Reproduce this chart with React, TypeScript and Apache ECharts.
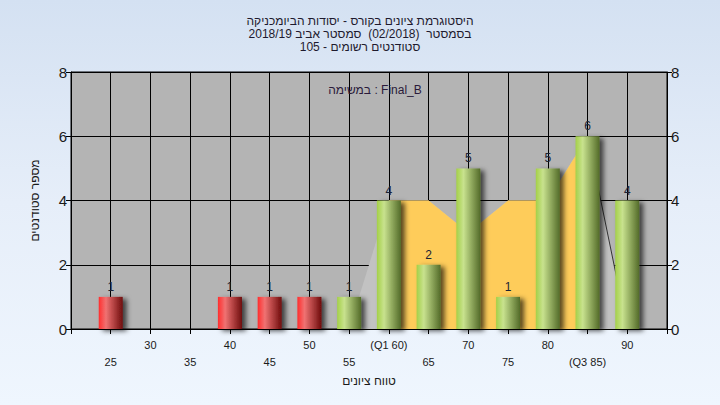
import React, { useEffect, useRef } from "react";
import * as echarts from "echarts";

// ---- data ----
const titleLines = [
  "היסטוגרמת ציונים בקורס - יסודות הביומכניקה",
  "בסמסטר  (02/2018)  סמסטר אביב 2018/19",
  "סטודנטים רשומים - 105",
];
const taskLabel = "במשימה : Final_B";
const xAxisName = "טווח ציונים";
const yAxisName = "מספר סטודנטים";

const grades = [25, 30, 35, 40, 45, 50, 55, 60, 65, 70, 75, 80, 85, 90];
const counts = [1, 0, 0, 1, 1, 1, 1, 4, 2, 5, 1, 5, 6, 4];
const passMark = 55;
const q1 = 60;
const q3 = 85;

// distribution outline drawn behind the bars
const outlineX = [55, 60, 65, 70, 75, 80, 85, 90];
const outlineY = [0, 4, 4, 3, 4, 4, 6, 0];
// inter-quartile band
const bandX = [60, 65, 70, 75, 80, 85];
const bandY = [4, 4, 3, 4, 4, 6];
// right tail edge line
const tailX = [85, 90];
const tailY = [6, 0];

const xMin = 20;
const xMax = 95;
const xStep = 5;
const yMin = 0;
const yMax = 8;
const yStep = 2;

const redGrad = new echarts.graphic.LinearGradient(0, 0, 1, 0, [
  { offset: 0, color: "#ff2e2e" },
  { offset: 0.3, color: "#f07272" },
  { offset: 1, color: "#6e0c0c" },
]);
const greenGrad = new echarts.graphic.LinearGradient(0, 0, 1, 0, [
  { offset: 0, color: "#a4d048" },
  { offset: 0.3, color: "#c8e28e" },
  { offset: 1, color: "#536b29" },
]);

export default function App() {
  const ref = useRef<HTMLDivElement>(null);
  useEffect(() => {
    if (!ref.current) return;
    const chart = echarts.init(ref.current, null, { renderer: "svg" });
    const fontFamily = "'Liberation Sans', Arial, sans-serif";
    const barData = grades.map((g, i) => ({
      value: [g, counts[i]],
      itemStyle: { color: g < passMark ? redGrad : greenGrad },
    }));
    const xLabel = (v: number) => {
      if (v < grades[0] || v > grades[grades.length - 1]) return "";
      const idx = Math.round((v - grades[0]) / xStep);
      let s = String(v);
      if (v === q1) s = "(Q1 " + v + ")";
      if (v === q3) s = "(Q3 " + v + ")";
      return idx % 2 === 0 ? "\n" + s : s;
    };
    const yAxisBase = {
      type: "value" as const,
      min: yMin,
      max: yMax,
      interval: yStep,
      axisLine: { show: true, lineStyle: { color: "#000", width: 1 } },
      axisTick: { show: true, length: 5, lineStyle: { color: "#000" } },
      axisLabel: { color: "#1a1a1a", fontSize: 15, fontFamily, margin: 4 },
    };
    chart.setOption({
      animation: false,
      backgroundColor: "transparent",
      title: [
        {
          text: titleLines.join("\n"),
          left: "center",
          top: 9,
          textStyle: {
            fontSize: 12,
            fontWeight: "normal",
            color: "#1e1a2e",
            fontFamily,
            lineHeight: 13,
          },
        },
        {
          text: taskLabel,
          left: 370,
          top: 79,
          textAlign: "center",
          textStyle: { fontSize: 12, fontWeight: "normal", color: "#2a1a3a", fontFamily },
        },
      ],
      grid: {
        left: 71,
        right: 53,
        top: 72,
        bottom: 76,
        show: true,
        backgroundColor: "#b4b4b4",
        borderColor: "#000",
        borderWidth: 1,
      },
      xAxis: {
        type: "value",
        min: xMin,
        max: xMax,
        interval: xStep,
        name: xAxisName,
        nameLocation: "middle",
        nameGap: 46,
        nameTextStyle: { fontSize: 12, color: "#1a1a1a", fontFamily },
        axisLine: { show: true, onZero: false, lineStyle: { color: "#000" } },
        axisTick: { show: true, length: 5, lineStyle: { color: "#000" } },
        axisLabel: {
          formatter: xLabel,
          fontSize: 11,
          lineHeight: 17,
          color: "#1a1a1a",
          fontFamily,
          margin: 7,
          showMinLabel: true,
          showMaxLabel: true,
        },
        splitLine: { show: true, lineStyle: { color: "#000", width: 1 } },
      },
      yAxis: [
        {
          ...yAxisBase,
          position: "left",
          name: yAxisName,
          nameLocation: "middle",
          nameGap: 30,
          nameTextStyle: { fontSize: 12, color: "#1a1a1a", fontFamily },
          splitLine: { show: true, lineStyle: { color: "#000", width: 1 } },
        },
        {
          ...yAxisBase,
          position: "right",
          splitLine: { show: false },
        },
      ],
      series: [
        {
          type: "line",
          data: outlineX.map((x, i) => [x, outlineY[i]]),
          symbol: "none",
          lineStyle: { width: 0 },
          areaStyle: { color: "#c2c2c2", opacity: 1 },
          z: 1,
          silent: true,
        },
        {
          type: "line",
          data: bandX.map((x, i) => [x, bandY[i]]),
          symbol: "none",
          lineStyle: { width: 0 },
          areaStyle: { color: "#fecc5a", opacity: 1 },
          z: 2,
          silent: true,
        },
        {
          type: "line",
          data: tailX.map((x, i) => [x, tailY[i]]),
          symbol: "none",
          lineStyle: { width: 1, color: "#333" },
          z: 3,
          silent: true,
        },
        {
          type: "bar",
          data: barData,
          barWidth: 24,
          z: 5,
          itemStyle: {
            shadowColor: "rgba(0,0,0,0.65)",
            shadowBlur: 5,
            shadowOffsetX: 4,
            shadowOffsetY: 2,
          },
          label: {
            show: true,
            position: "top",
            distance: 4,
            fontSize: 12,
            color: "#1a2233",
            fontFamily,
            formatter: (p: any) => (p.value[1] ? String(p.value[1]) : ""),
          },
        },
      ],
    });
    return () => chart.dispose();
  }, []);
  return (
    <div
      style={{
        position: "absolute",
        left: 0,
        top: 0,
        width: 720,
        height: 405,
        background: "linear-gradient(to bottom, #d4e1f2 0%, #e6eef9 50%, #eff6fe 100%)",
      }}
    >
      <div ref={ref} style={{ width: 720, height: 405 }} />
    </div>
  );
}
